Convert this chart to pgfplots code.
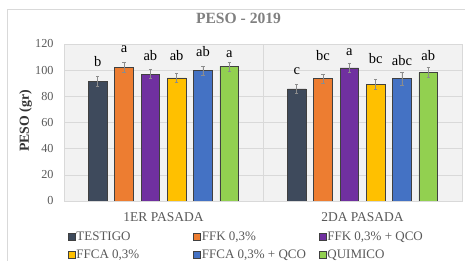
\documentclass[border=0pt]{standalone}
\usepackage{pgfplots}
\usepackage{pgfplotstable}
\pgfplotsset{compat=1.18}
\usepackage{fontspec}
\setmainfont{Liberation Serif}
\definecolor{cTest}{HTML}{3E4A5C}
\definecolor{cFFK}{HTML}{ED7D31}
\definecolor{cFFKQ}{HTML}{7030A0}
\definecolor{cFFCA}{HTML}{FFC000}
\definecolor{cFFCAQ}{HTML}{4472C4}
\definecolor{cQuim}{HTML}{92D050}
\definecolor{edge}{HTML}{404040}
\definecolor{gridc}{HTML}{D9D9D9}
\definecolor{txt}{HTML}{595959}

\pgfplotstableread{
x y e lab off
0 91.6 3.6 b 20
1 85.7 3.6 c 17.7
}\tTest
\pgfplotstableread{
x y e lab off
0 102.1 3.6 a 18.3
1 93.4 3.5 bc 23
}\tFFK
\pgfplotstableread{
x y e lab off
0 96.9 3.4 ab 18.3
1 101.8 3.8 a 16
}\tFFKQ
\pgfplotstableread{
x y e lab off
0 94.1 3.5 ab 22
1 89.3 3.6 bc 25.7
}\tFFCA
\pgfplotstableread{
x y e lab off
0 99.8 3.5 ab 19
1 93.4 4.8 abc 18
}\tFFCAQ
\pgfplotstableread{
x y e lab off
0 102.8 3.3 a 12.3
1 98.2 4.0 ab 17
}\tQuim

\pgfplotsset{
  mybar/.style={fill=#1, draw=edge, line width=0.6pt,
    error bars/.cd, y dir=both, y explicit,
    error bar style={black!45, line width=0.6pt},
    error mark options={rotate=90, mark size=1.6pt, black!45, line width=0.6pt}},
}

\begin{document}
\begin{tikzpicture}
\path[use as bounding box] (0,0) rectangle (465pt,261pt);
\draw[gridc,line width=0.8pt] (7.5pt,0pt) -- (7.5pt,252pt) -- (465pt,252pt);
\begin{axis}[
  at={(64pt,60pt)}, anchor=south west,
  scale only axis, width=398pt, height=157pt,
  ybar=7.6pt, bar width=18.7pt,
  xmin=-0.5, xmax=1.5, ymin=0, ymax=120,
  ytick={0,20,...,120},
  xtick={0,1}, xticklabels={1ER PASADA,2DA PASADA},
  extra x ticks={0.5}, extra x tick labels={},
  extra x tick style={grid=major, major grid style={gridc,line width=0.6pt}},
  major tick length=0pt,
  ymajorgrids, grid style={gridc,line width=0.6pt},
  axis line style={gridc},
  axis background/.style={fill=black!5},
  /pgf/number format/assume math mode=true,
  tick label style={font=\fontsize{12.2}{14}\selectfont, text=txt},
  yticklabel style={xshift=-7pt},
  xticklabel style={font=\fontsize{13.5}{16}\selectfont, yshift=-8pt},
  title={PESO - 2019},
  title style={at={(axis description cs:0.4384,1.124)}, anchor=center, font=\bfseries\fontsize{15.6}{18}\selectfont, text=black!50},
  ylabel={PESO (gr)},
  ylabel style={at={(axis description cs:-0.0962,0.51)}, anchor=center, font=\bfseries\fontsize{13.8}{16}\selectfont, text=black!80},
  nodes near coords, point meta=explicit symbolic,
  every node near coord/.append style={anchor=center, font=\fontsize{14.5}{17}\selectfont, text=black, yshift=\off pt},
  visualization depends on={\thisrow{off} \as \off},
  legend columns=3,
  legend style={at={(axis description cs:0.0093,-0.19)}, anchor=north west, draw=none, fill=none,
    inner sep=0pt, row sep=6pt,
    font=\fontsize{13}{15}\selectfont, text=txt,
    nodes={inner sep=1pt}},
  legend image code/.code={\draw[#1,draw=edge,line width=0.5pt] (0pt,-3.5pt) rectangle (7pt,3.5pt);},
]
\addplot[mybar=cTest] table[x=x,y=y,y error=e,meta=lab]{\tTest};
\addplot[mybar=cFFK] table[x=x,y=y,y error=e,meta=lab]{\tFFK};
\addplot[mybar=cFFKQ] table[x=x,y=y,y error=e,meta=lab]{\tFFKQ};
\addplot[mybar=cFFCA] table[x=x,y=y,y error=e,meta=lab]{\tFFCA};
\addplot[mybar=cFFCAQ] table[x=x,y=y,y error=e,meta=lab]{\tFFCAQ};
\addplot[mybar=cQuim] table[x=x,y=y,y error=e,meta=lab]{\tQuim};
\legend{\makebox[116pt][l]{TESTIGO},\makebox[116pt][l]{FFK 0,3\%},\makebox[116pt][l]{FFK 0,3\% + QCO},\makebox[116pt][l]{FFCA 0,3\%},\makebox[116pt][l]{FFCA 0,3\% + QCO},\makebox[116pt][l]{QUIMICO}}
\end{axis}
\end{tikzpicture}
\end{document}
